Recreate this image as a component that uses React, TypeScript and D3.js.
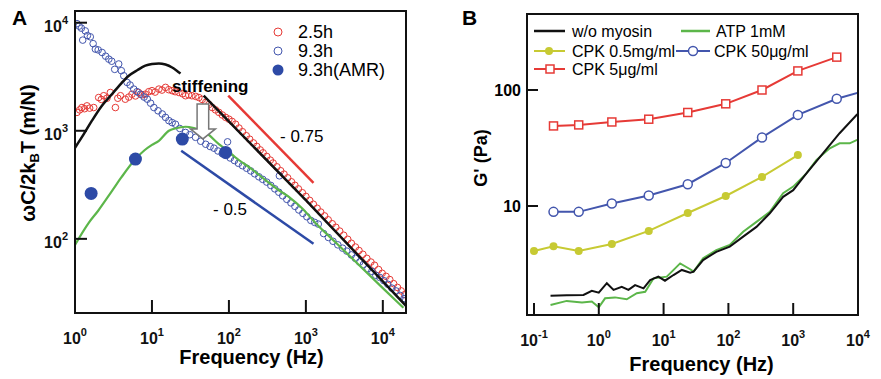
import React from 'react';
import * as d3 from 'd3';

type Pt = [number, number];

// ---------- panel A : wC/2kBT vs frequency ----------
const red25h: Pt[] = [
  [1.06, 1480], [1.15, 1560], [1.23, 1640], [1.33, 1600], [1.43, 1700], [1.55, 1620], [1.75, 1640],
  [2.03, 2030], [2.2, 1950], [2.36, 2110], [2.6, 2000], [2.88, 2260], [3.35, 1640], [3.6, 2000],
  [3.9, 2110], [4.5, 1960], [5.0, 2050], [5.5, 2180], [6.1, 2100], [6.7, 2260], [7.4, 2150],
  [8.2, 2180], [9.1, 2300], [10, 2350], [11, 2280], [12.3, 2430], [13.5, 2380], [15, 2520],
  [16.5, 2400], [18.3, 2350], [20, 2300], [22.4, 2260], [25, 2200], [27.3, 2110], [30, 2150],
  [33, 2110], [37, 2080], [40.7, 2030], [45, 1950], [50, 1830], [55, 1750], [60.7, 1640], [67, 1560],
  [74, 1480], [82, 1400], [90.6, 1330], [100, 1280], [110, 1220], [122, 1150], [135, 1060],
  [150, 980], [168, 900], [186, 836], [208, 772], [230, 717], [255, 665], [278, 625], [310, 579],
  [345, 535], [375, 503], [420, 464], [470, 427], [520, 397], [580, 367], [650, 337], [720, 313],
  [800, 290], [900, 267], [1000, 247], [1120, 227], [1250, 209], [1400, 192], [1560, 177],
  [1750, 163], [1950, 150], [2200, 138], [2450, 128], [2750, 118], [3100, 108], [3500, 99],
  [3900, 91], [4400, 84], [4900, 78], [5500, 72], [6200, 66], [7000, 61], [7800, 57], [8800, 52],
  [9800, 48], [11000, 45], [12300, 42], [13800, 38.5], [15500, 35.5], [17300, 33], [19300, 30.5],
];

const blue93h: Pt[] = [
  [1.06, 9800], [1.13, 9300], [1.21, 8900], [1.26, 6900], [1.36, 8400], [1.45, 7600], [1.58, 7400],
  [1.72, 6400], [1.84, 5700], [2.0, 5600], [2.25, 5300], [2.5, 4900], [2.75, 4600], [3.0, 4400],
  [3.28, 3700], [3.7, 4150], [4.0, 3600], [4.3, 3230], [4.75, 2800], [5.2, 2650], [5.8, 2430],
  [6.4, 2300], [7.1, 2180], [7.9, 2050], [8.7, 1960], [9.6, 1800], [10.6, 1640], [12, 1530],
  [13.6, 1430], [15, 1330], [16.6, 1240], [18.3, 1190], [20.2, 1150], [23, 1050], [27.3, 965],
  [31, 920], [36.8, 870], [43, 800], [50, 750], [57, 715], [64, 690], [72, 650], [82, 615],
  [92, 590], [96, 790], [104, 560], [118, 530], [133, 500], [150, 475], [170, 450], [192, 425],
  [216, 400], [245, 375], [275, 355], [310, 335], [350, 312], [395, 290], [453, 383], [445, 270],
  [500, 250], [565, 232], [640, 215], [720, 200], [810, 185], [915, 172], [1030, 160], [1160, 148],
  [1300, 142], [1450, 137], [1700, 112], [1960, 103], [2250, 95], [2600, 88], [3000, 82],
  [3400, 77], [3900, 71], [4400, 66], [5000, 61], [5600, 58], [6400, 53], [7200, 50], [8100, 46],
  [9100, 44], [10300, 41], [11600, 38], [13100, 35], [14800, 33], [16700, 30], [18800, 28],
  [19800, 27],
];

const amr93h: Pt[] = [[1.62, 263], [6.1, 547], [24.8, 838], [90.6, 630]];

const blackFitLow: Pt[] = [
  [1, 696], [1.3, 930], [1.66, 1240], [2.2, 1680], [3.03, 2190], [4, 2750], [5, 3230], [6.5, 3650],
  [8.2, 4000], [10, 4150], [12.3, 4200], [15, 4100], [18.3, 3850], [21, 3600], [23.5, 3390],
];
const blackFitHigh: Pt[] = [[47, 2110], [1020, 225], [20000, 24]];

const greenFit: Pt[] = [
  [1, 88], [1.5, 140], [2, 182], [3, 275], [4, 370], [6.1, 547], [8, 660], [10, 740], [12.3, 807],
  [16.6, 1000], [20, 1050], [27.3, 1090], [35, 1060], [50, 964], [74, 753], [100, 640], [122, 566],
  [200, 440], [307, 344], [450, 280], [618, 241], [900, 191], [1374, 137], [2500, 91], [5050, 56],
  [10000, 35], [18500, 23],
];

const slopeRed: Pt[] = [[98, 2110], [1256, 330]];
const slopeBlue: Pt[] = [[24, 653], [1256, 90]];

// ---------- panel B : G' vs frequency ----------
const freqB = [0.1, 0.2, 0.49, 1.59, 5.9, 23.6, 91, 330, 1180, 4700, 15000];
const cpk5 = [null, 49, 50, 53, 56, 64, 76, 100, 146, 192, null];
const cpk50 = [null, 8.9, 8.9, 10.5, 12.3, 15.4, 23.5, 39, 61, 84, 101];
const cpk05 = [4.1, 4.5, 4.1, 4.7, 6.1, 8.7, 12.2, 17.8, 27.5, null, null];

const noMyosin: Pt[] = [
  [0.18, 1.68], [0.32, 1.70], [0.58, 1.71], [0.78, 1.86], [1.0, 1.79], [1.33, 2.16], [1.69, 1.89],
  [2.26, 2.01], [2.87, 1.89], [3.63, 2.08], [4.9, 1.95], [6.2, 2.30], [8.3, 2.46], [10.5, 2.27],
  [14.2, 2.54], [19.1, 2.81], [25.7, 2.66], [29, 2.72], [40.7, 3.42], [65, 4.03], [105, 4.47],
  [169, 5.44], [271, 6.6], [436, 8.65], [699, 12.0], [1000, 13.7], [1600, 19.1], [2900, 28.5],
  [5200, 42.4], [9500, 60.8], [10500, 64],
];
const atp1mM: Pt[] = [
  [0.18, 1.40], [0.32, 1.52], [0.55, 1.47], [0.78, 1.50], [1.0, 1.34], [1.25, 1.60], [1.78, 1.63],
  [2.7, 1.57], [3.86, 1.77], [5.2, 1.82], [7.0, 2.38], [11.2, 2.46], [18, 3.2], [25.7, 2.85],
  [29, 2.72], [40.7, 3.54], [65, 4.17], [105, 4.61], [169, 6.0], [271, 7.3], [436, 8.9],
  [699, 12.9], [1000, 14.7], [1600, 19.1], [2290, 25], [3670, 31.4], [5200, 34.7], [7450, 34.7],
  [9500, 37], [10500, 37.5],
];

const ticksA = [0, 1, 2, 3, 4];
const ticksAy = [2, 3, 4];
const ticksB = [-1, 0, 1, 2, 3, 4];
const ticksBy = [10, 100];

const C = {
  red: '#e63a36',
  blue: '#4356ad',
  blueFill: '#2d4aa6',
  green: '#5cb64a',
  yellow: '#c7ca33',
  black: '#111',
};
const FONT = '"Liberation Sans", Arial, sans-serif';

const boxA = { l: 75, r: 406, t: 11, b: 313 };
const boxB = { l: 527, r: 858, t: 14, b: 315 };

const xA = d3.scaleLog().domain([1, 20000]).range([boxA.l, boxA.r]);
const yA = d3.scaleLog().domain([20.6, 12830]).range([boxA.b, boxA.t]);
const xB = d3.scaleLog().domain([0.078, 10000]).range([boxB.l, boxB.r]);
const yB = d3.scaleLog().domain([1.149, 452]).range([boxB.b, boxB.t]);

const lineA = d3.line<Pt>().x(d => xA(d[0])).y(d => yA(d[1]));
const smoothA = d3.line<Pt>().x(d => xA(d[0])).y(d => yA(d[1])).curve(d3.curveMonotoneX);
const lineB = d3.line<Pt>().x(d => xB(d[0])).y(d => yB(d[1]));

function pairs(vals: (number | null)[]): Pt[] {
  const out: Pt[] = [];
  vals.forEach((v, i) => { if (v != null) out.push([freqB[i], v]); });
  return out;
}

function Sup({ x, y, base, exp, anchor }: { x: number; y: number; base: string; exp: string; anchor: string }) {
  return (
    <text x={x} y={y} textAnchor={anchor} fontFamily={FONT} fontWeight="bold" fontSize={16} fill="#111">
      {base}
      <tspan dy={-8} fontSize={11}>{exp}</tspan>
    </text>
  );
}

function Square({ x, y, c }: { x: number; y: number; c: string }) {
  return <rect x={x - 4} y={y - 4} width={8} height={8} fill="white" stroke={c} strokeWidth={1.5} />;
}

export default function App() {
  const sA = { f: 45.9, top: 1770, tip: 840 };
  const ax = xA(sA.f), aTop = yA(sA.top), aTip = yA(sA.tip);
  const arrow = [
    [ax - 5.8, aTop], [ax + 5.8, aTop], [ax + 5.8, aTip - 10], [ax + 12.5, aTip - 10],
    [ax, aTip], [ax - 12.5, aTip - 10], [ax - 5.8, aTip - 10],
  ].map(p => p.join(',')).join(' ');

  const red5 = pairs(cpk5), blue50 = pairs(cpk50), yel05 = pairs(cpk05);

  return (
    <svg width={881} height={379} style={{ position: 'absolute', left: 0, top: 0, background: 'white' }}>
      <defs>
        <clipPath id="clipA"><rect x={boxA.l} y={boxA.t} width={boxA.r - boxA.l} height={boxA.b - boxA.t} /></clipPath>
        <clipPath id="clipB"><rect x={boxB.l} y={boxB.t} width={boxB.r - boxB.l} height={boxB.b - boxB.t} /></clipPath>
      </defs>

      {/* ===== panel A ===== */}
      <text x={12} y={25} fontFamily={FONT} fontWeight="bold" fontSize={21}>A</text>
      <g clipPath="url(#clipA)">
        {red25h.map((d, i) => (
          <circle key={'r' + i} cx={xA(d[0])} cy={yA(d[1])} r={3.3} fill="none" stroke={C.red} strokeWidth={1} />
        ))}
        {blue93h.map((d, i) => (
          <circle key={'b' + i} cx={xA(d[0])} cy={yA(d[1])} r={3.3} fill="none" stroke={C.blue} strokeWidth={1} />
        ))}
        <path d={smoothA(greenFit) || ''} fill="none" stroke={C.green} strokeWidth={2.2} />
        <path d={smoothA(blackFitLow) || ''} fill="none" stroke={C.black} strokeWidth={2.5} />
        <path d={lineA(blackFitHigh) || ''} fill="none" stroke={C.black} strokeWidth={2.5} />
        <path d={lineA(slopeRed) || ''} fill="none" stroke={C.red} strokeWidth={2.5} />
        <path d={lineA(slopeBlue) || ''} fill="none" stroke={C.blueFill} strokeWidth={2.5} />
        {amr93h.map((d, i) => (
          <circle key={'a' + i} cx={xA(d[0])} cy={yA(d[1])} r={6.5} fill={C.blueFill} />
        ))}
      </g>
      <polygon points={arrow} fill="white" stroke="#777" strokeWidth={1.5} />
      <text x={xA(18.2)} y={yA(2300)} fontFamily={FONT} fontWeight="bold" fontSize={17}>stiffening</text>
      <text x={280} y={142} fontFamily={FONT} fontSize={17}>- 0.75</text>
      <text x={213} y={215} fontFamily={FONT} fontSize={17}>- 0.5</text>

      {/* legend A */}
      <circle cx={278} cy={32} r={4} fill="none" stroke={C.red} strokeWidth={1} />
      <text x={298} y={38} fontFamily={FONT} fontSize={18}>2.5h</text>
      <circle cx={278} cy={51} r={4} fill="none" stroke={C.blue} strokeWidth={1} />
      <text x={298} y={57} fontFamily={FONT} fontSize={18}>9.3h</text>
      <circle cx={278} cy={70} r={5.5} fill={C.blueFill} />
      <text x={298} y={76} fontFamily={FONT} fontSize={18}>9.3h(AMR)</text>

      <rect x={boxA.l} y={boxA.t} width={boxA.r - boxA.l} height={boxA.b - boxA.t} fill="none" stroke="#111" strokeWidth={2} />
      {ticksA.map(e => (
        <g key={'ta' + e}>
          <line x1={xA(10 ** e)} x2={xA(10 ** e)} y1={boxA.b} y2={boxA.b - 13} stroke="#111" strokeWidth={2} />
          <Sup x={xA(10 ** e)} y={344} base="10" exp={String(e)} anchor="middle" />
        </g>
      ))}
      {ticksAy.map(e => (
        <g key={'tay' + e}>
          <line x1={boxA.l} x2={boxA.l + 12} y1={yA(10 ** e)} y2={yA(10 ** e)} stroke="#111" strokeWidth={2} />
          <Sup x={68} y={yA(10 ** e) + 9} base="10" exp={String(e)} anchor="end" />
        </g>
      ))}
      <text x={(boxA.l + boxA.r) / 2 + 11} y={364} textAnchor="middle" fontFamily={FONT} fontWeight="bold" fontSize={20}>Frequency (Hz)</text>
      <text transform="translate(35,153) rotate(-90)" textAnchor="middle" fontFamily={FONT} fontWeight="bold" fontSize={20}>
        ωC/2k<tspan dy={4} fontSize={13}>B</tspan><tspan dy={-4}>T (m/N)</tspan>
      </text>

      {/* ===== panel B ===== */}
      <text x={462} y={25} fontFamily={FONT} fontWeight="bold" fontSize={21}>B</text>
      <g clipPath="url(#clipB)">
        <path d={lineB(atp1mM) || ''} fill="none" stroke={C.green} strokeWidth={2} />
        <path d={lineB(noMyosin) || ''} fill="none" stroke={C.black} strokeWidth={2} />
        <path d={lineB(yel05) || ''} fill="none" stroke={C.yellow} strokeWidth={2} />
        {yel05.map((d, i) => <circle key={'y' + i} cx={xB(d[0])} cy={yB(d[1])} r={4} fill={C.yellow} />)}
        <path d={lineB(blue50) || ''} fill="none" stroke={C.blue} strokeWidth={2} />
        {blue50.map((d, i) => (
          <circle key={'c' + i} cx={xB(d[0])} cy={yB(d[1])} r={4.5} fill="white" stroke={C.blue} strokeWidth={1.5} />
        ))}
        <path d={lineB(red5) || ''} fill="none" stroke={C.red} strokeWidth={2} />
        {red5.map((d, i) => <Square key={'s' + i} x={xB(d[0])} y={yB(d[1])} c={C.red} />)}
      </g>

      {/* legend B */}
      <line x1={534} x2={565} y1={31} y2={31} stroke={C.black} strokeWidth={2.5} />
      <text x={572} y={37} fontFamily={FONT} fontSize={16}>w/o myosin</text>
      <line x1={681} x2={710} y1={31} y2={31} stroke={C.green} strokeWidth={2.5} />
      <text x={716} y={37} fontFamily={FONT} fontSize={16}>ATP 1mM</text>
      <line x1={534} x2={565} y1={51} y2={51} stroke={C.yellow} strokeWidth={2} />
      <circle cx={549} cy={51} r={4} fill={C.yellow} />
      <text x={572} y={57} fontFamily={FONT} fontSize={16}>CPK 0.5mg/ml</text>
      <line x1={676} x2={710} y1={51} y2={51} stroke={C.blue} strokeWidth={2} />
      <circle cx={693} cy={51} r={4.5} fill="white" stroke={C.blue} strokeWidth={1.5} />
      <text x={714} y={57} fontFamily={FONT} fontSize={16}>CPK 50μg/ml</text>
      <line x1={534} x2={565} y1={69} y2={69} stroke={C.red} strokeWidth={2} />
      <Square x={550} y={69} c={C.red} />
      <text x={572} y={75} fontFamily={FONT} fontSize={16}>CPK 5μg/ml</text>

      <rect x={boxB.l} y={boxB.t} width={boxB.r - boxB.l} height={boxB.b - boxB.t} fill="none" stroke="#111" strokeWidth={2} />
      {ticksB.map(e => (
        <g key={'tb' + e}>
          <line x1={xB(10 ** e)} x2={xB(10 ** e)} y1={boxB.b} y2={boxB.b - 12} stroke="#111" strokeWidth={2} />
          <Sup x={xB(10 ** e)} y={346} base="10" exp={String(e)} anchor="middle" />
        </g>
      ))}
      {ticksBy.map(v => (
        <g key={'tby' + v}>
          <line x1={boxB.l} x2={boxB.l + 11} y1={yB(v)} y2={yB(v)} stroke="#111" strokeWidth={2} />
          <text x={521} y={yB(v) + 6} textAnchor="end" fontFamily={FONT} fontWeight="bold" fontSize={16}>{v}</text>
        </g>
      ))}
      <text x={(boxB.l + boxB.r) / 2 + 9} y={371} textAnchor="middle" fontFamily={FONT} fontWeight="bold" fontSize={20}>Frequency (Hz)</text>
      <text transform="translate(487,158) rotate(-90)" textAnchor="middle" fontFamily={FONT} fontWeight="bold" fontSize={18}>G' (Pa)</text>
    </svg>
  );
}
